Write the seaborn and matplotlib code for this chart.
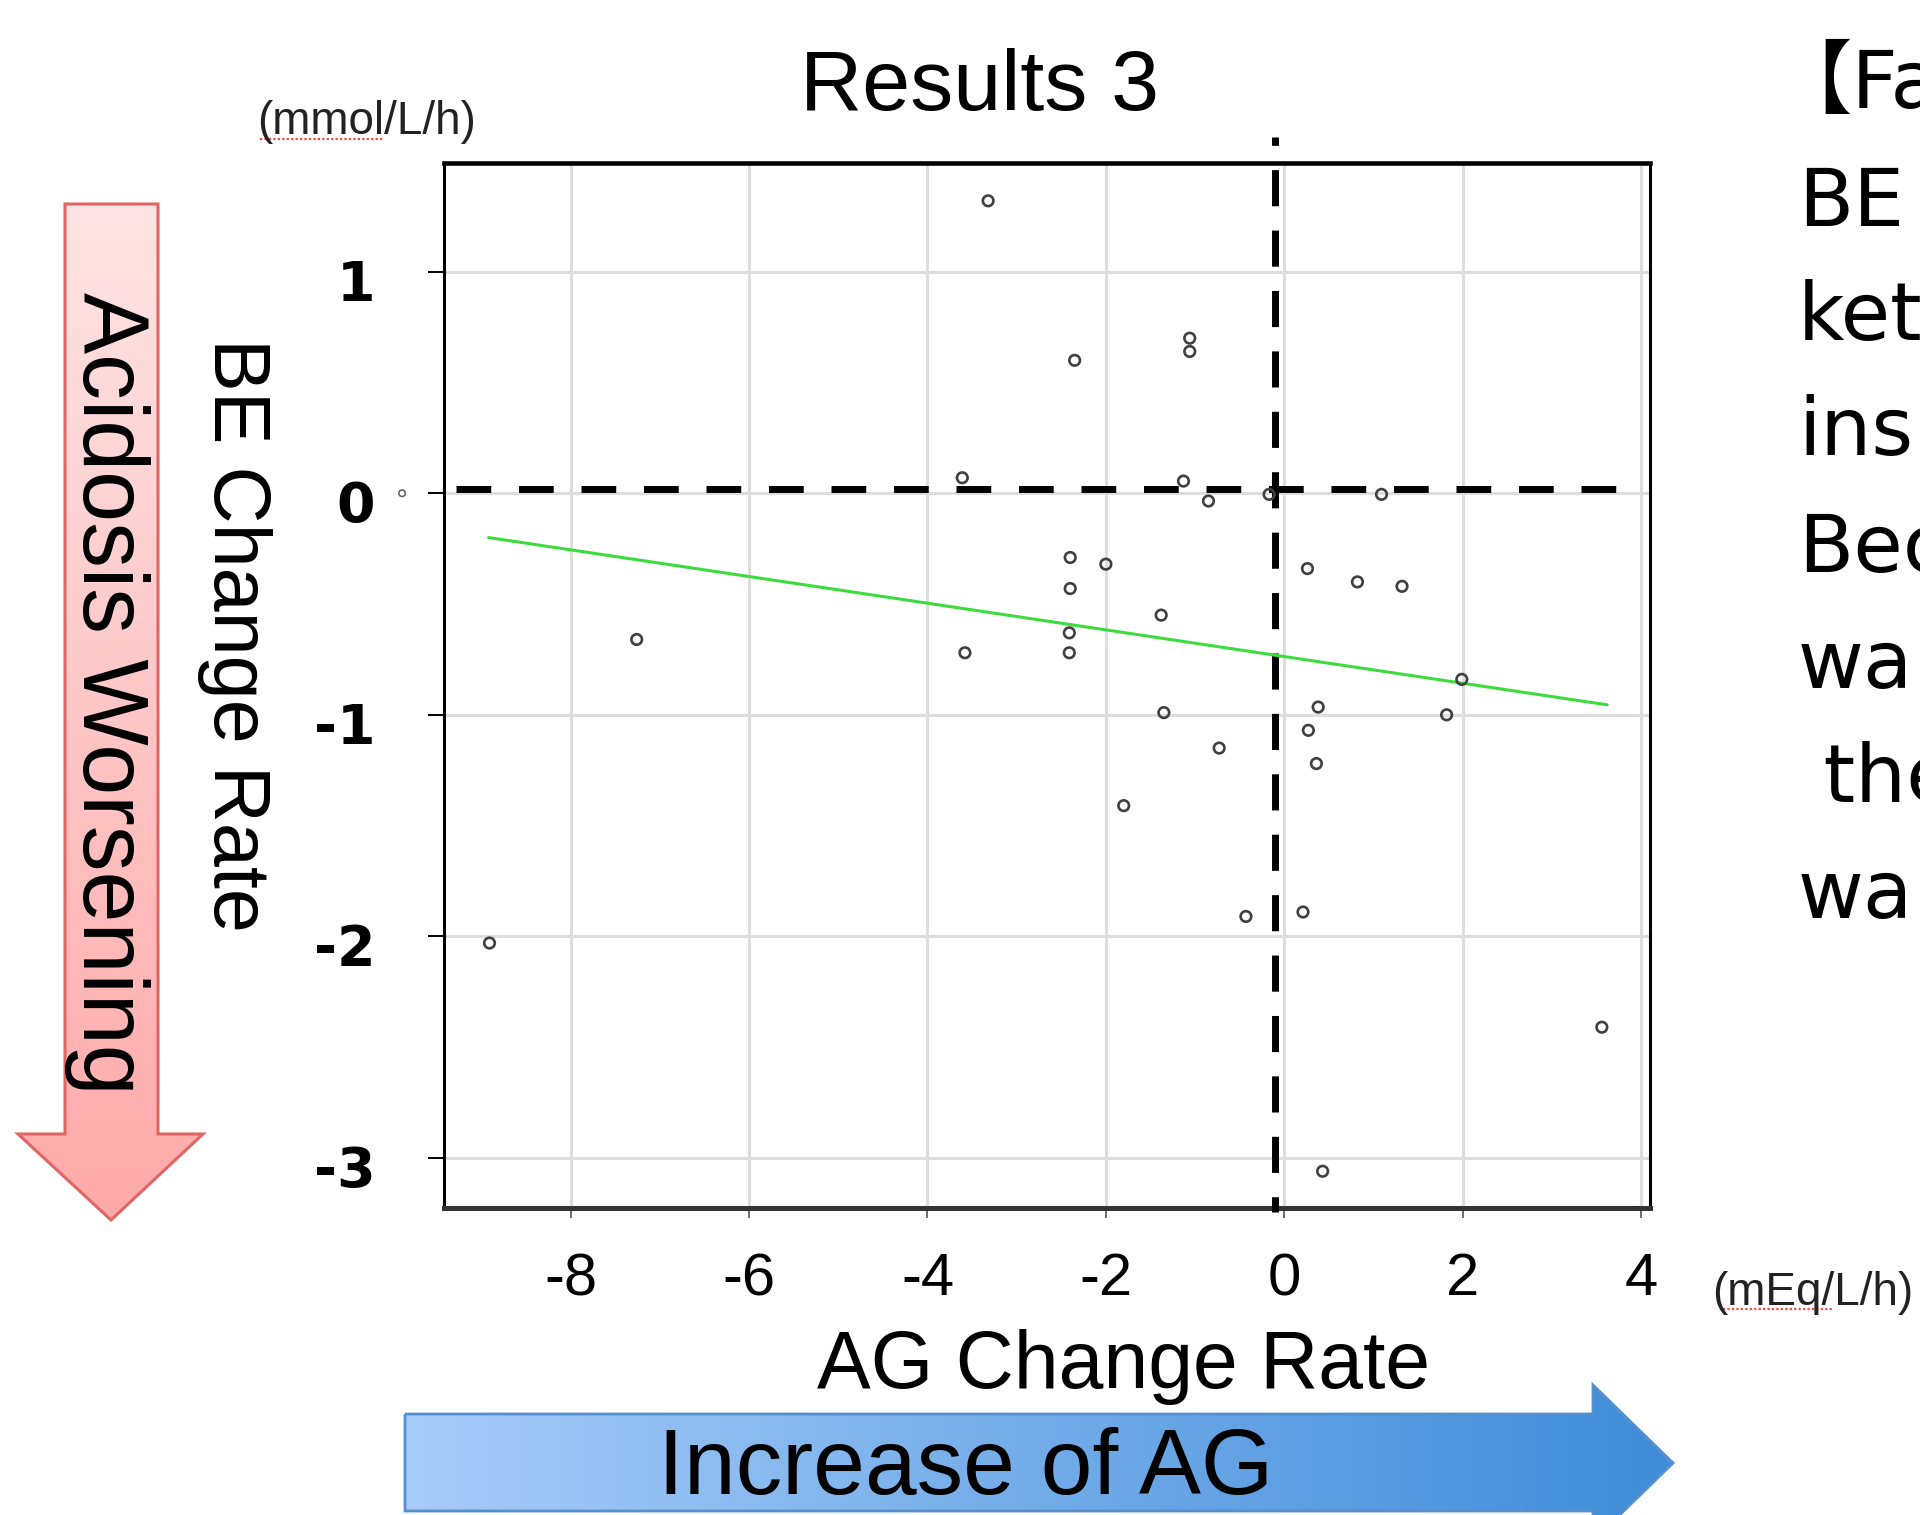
import numpy as np
import matplotlib
matplotlib.use("Agg")
import matplotlib.pyplot as plt
import seaborn as sns
import pandas as pd
from matplotlib.patches import Polygon
from matplotlib.transforms import ScaledTranslation
from matplotlib.colors import to_rgb

# ---------------- data ----------------
ag_rate = [-3.32, -1.06, -1.06, -2.35, -3.61, -1.13, -0.85, -0.17, 1.09,
           -2.40, -2.00, 0.26, 0.82, 1.32, -2.40, -1.38, -7.26, -2.41,
           -3.58, -2.41, 1.99, -1.35, 0.38, 1.82, 0.27, -0.73, 0.36,
           -1.80, -0.43, 0.21, -8.91, 3.56, 0.43]
be_rate = [1.32, 0.70, 0.64, 0.60, 0.07, 0.055, -0.035, -0.005, -0.005,
           -0.29, -0.32, -0.34, -0.40, -0.42, -0.43, -0.55, -0.66, -0.63,
           -0.72, -0.72, -0.84, -0.99, -0.965, -1.00, -1.07, -1.15, -1.22,
           -1.41, -1.91, -1.89, -2.03, -2.41, -3.06]
fit_ag = [-8.92, 3.62]
fit_be = [-0.20, -0.955]
stray_ag = [-9.89]
stray_be = [0.0]
ref_ag = -0.10
ref_be = 0.02
x_ticks = [-8, -6, -4, -2, 0, 2, 4]
x_tick_labels = ["-8", "-6", "-4", "-2", "0", "2", "4"]
y_ticks = [1, 0, -1, -2, -3]
y_tick_labels = ["1", "0", "-1", "-2", "-3"]
title = "Results 3"
x_label = "AG Change Rate"
y_label = "BE Change Rate"
x_unit = "(mEq/L/h)"
y_unit = "(mmol/L/h)"
down_arrow_text = "Acidosis Worsening"
right_arrow_text = "Increase of AG"
side_lines = ["【Fa", "BE", "ket", "ins", "Bec", "wa", " the", "wa"]

# ---------------- style ----------------
sns.set_style("whitegrid")
plt.rcParams["font.family"] = ["Liberation Sans", "DejaVu Sans"]
plt.rcParams["text.color"] = "black"
plt.rcParams["axes.labelcolor"] = "black"
plt.rcParams["xtick.color"] = "black"
plt.rcParams["ytick.color"] = "black"

W, H = 1920, 1515
fig = plt.figure(figsize=(19.2, 15.15), dpi=100)
fig.patch.set_facecolor("white")

# overlay (pixel coordinates) for decorations
ov = fig.add_axes([0, 0, 1, 1], zorder=0)
ov.set_xlim(0, W)
ov.set_ylim(H, 0)
ov.axis("off")

# main axes
ax = fig.add_axes([0.23125, 0.20264, 0.62813, 0.68997], zorder=1)
ax.set_facecolor("white")

df = pd.DataFrame({"ag": ag_rate, "be": be_rate})
sns.scatterplot(data=df, x="ag", y="be", ax=ax, marker="o", s=58,
                facecolor="none", edgecolor="#404040", linewidth=1.9, zorder=5)
sns.scatterplot(x=stray_ag, y=stray_be, ax=ax, marker="o", s=22,
                facecolor="none", edgecolor="#666666", linewidth=1.2,
                zorder=5, clip_on=False)

sns.lineplot(x=fit_ag, y=fit_be, ax=ax, color="#3ddc3d", linewidth=2.2, zorder=4)

# dashed reference lines
ax.plot([-9.29, 3.82], [ref_be, ref_be], color="black", lw=5.0,
        linestyle=(0, (5.0, 4.0)), dash_capstyle="butt", zorder=3, clip_on=False)
ax.plot([ref_ag, ref_ag], [1.61, -3.245], color="black", lw=5.0,
        linestyle=(4.0, (5.2, 3.5)), dash_capstyle="butt", zorder=3, clip_on=False)

ax.set_xlim(-9.42, 4.10)
ax.set_ylim(-3.226, 1.492)

ax.grid(True, color="#dddddd", lw=2.2)
ax.set_axisbelow(True)

ax.set_xticks(x_ticks, x_tick_labels, fontsize=43, fontfamily="Liberation Sans")
ax.set_yticks(y_ticks, y_tick_labels, fontsize=40, fontfamily="DejaVu Sans",
              fontweight="bold")
ax.tick_params(axis="x", bottom=True, length=7, width=1.2, color="#555555", pad=25,
               labelcolor="black")
ax.tick_params(axis="y", left=True, length=11.5, width=1.4, color="black", pad=38,
               labelcolor="black")
shift = ScaledTranslation(0, -8 / 100, fig.dpi_scale_trans)
for lab in ax.get_yticklabels():
    lab.set_transform(lab.get_transform() + shift)

for s in ["left", "right"]:
    ax.spines[s].set_color("black")
    ax.spines[s].set_linewidth(2.2)
ax.spines["top"].set_color("black")
ax.spines["top"].set_linewidth(3.3)
ax.spines["bottom"].set_color("#333333")
ax.spines["bottom"].set_linewidth(3.6)

ax.set_xlabel(x_label, fontsize=58, color="black")
ax.xaxis.set_label_coords(0.5634, -0.1722)
ax.xaxis.label.set_va("baseline")
ax.set_ylabel(y_label, fontsize=57, rotation=-90, color="black")
ax.yaxis.set_label_coords(-0.174, 0.548)
ax.yaxis.label.set_va("center")
ax.yaxis.label.set_ha("center")

ax.set_title(title, fontsize=62, x=0.4443, y=1.0504, va="baseline", pad=0,
             color="black")

# ---------------- decorations ----------------
def gradient_poly(axis, pts, c0, c1, direction, edge, lw):
    poly = Polygon(pts, closed=True, facecolor="none", edgecolor=edge, lw=lw, zorder=2)
    axis.add_patch(poly)
    xs = [p[0] for p in pts]
    ys = [p[1] for p in pts]
    a = np.array(to_rgb(c0))
    b = np.array(to_rgb(c1))
    t = np.linspace(0, 1, 256)
    grad = a[None, :] * (1 - t[:, None]) + b[None, :] * t[:, None]
    if direction == "v":
        img = np.repeat(grad[:, None, :], 2, axis=1)
    else:
        img = np.repeat(grad[None, :, :], 2, axis=0)
    im = axis.imshow(img, extent=(min(xs), max(xs), max(ys), min(ys)),
                     origin="upper", aspect="auto", zorder=1, interpolation="bilinear")
    im.set_clip_path(poly)

red_pts = [(65, 204), (158, 204), (158, 1134), (203, 1134), (111, 1220),
           (18, 1134), (65, 1134)]
gradient_poly(ov, red_pts, "#fde4e4", "#ffa9a9", "v", "#e06666", 2.2)

blue_pts = [(405, 1414), (1593, 1414), (1593, 1385), (1673, 1463),
            (1593, 1541), (1593, 1511), (405, 1511)]
gradient_poly(ov, blue_pts, "#a6ccfa", "#3f8cd8", "h", "#5590cc", 2.0)

ov.set_xlim(0, W)
ov.set_ylim(H, 0)

ov.text(107, 693, down_arrow_text, rotation=-90, ha="center", va="center",
        fontsize=66, color="black", zorder=3)
ov.text(966, 1494, right_arrow_text, ha="center", va="baseline",
        fontsize=67, color="black", zorder=3)

# units
ov.text(367, 122, y_unit, ha="center", va="center", fontsize=33, color="#222222")
ov.plot([260, 384], [139, 139], color="#ff4444", lw=1.6, linestyle=(0, (1, 1)))
ov.text(1712, 1293, x_unit, ha="left", va="center", fontsize=33, color="#222222")
ov.plot([1723, 1833], [1309, 1309], color="#ff4444", lw=1.6, linestyle=(0, (1, 1)))

# side text (cut off by the right edge, as in the original slide)
baselines = [108, 226, 340, 455, 572, 688, 802, 918]
for i, (line, yb) in enumerate(zip(side_lines, baselines)):
    xx = 1771 if i == 0 else 1798
    ov.text(xx, yb, line, ha="left", va="baseline", fontsize=58,
            family=["DejaVu Sans", "Noto Sans CJK JP"], color="black")

fig.savefig("out.png", dpi=100, facecolor="white")
